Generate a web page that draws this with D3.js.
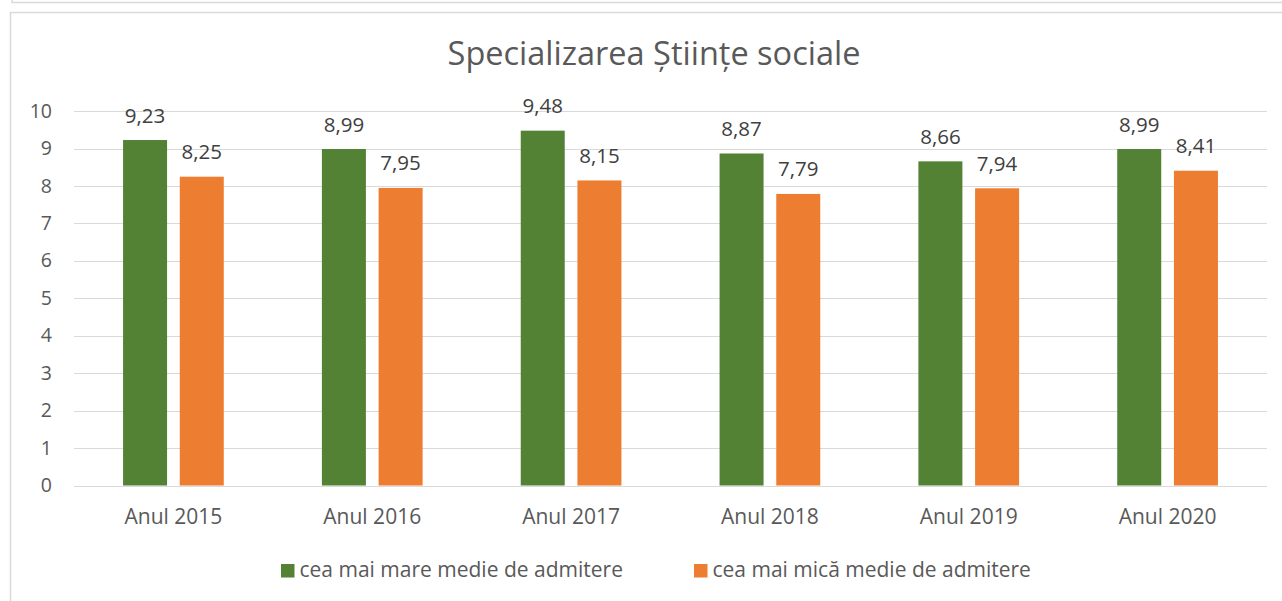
<!DOCTYPE html>
<html><head><meta charset="utf-8">
<script src="https://cdn.jsdelivr.net/npm/d3@7"></script>
<style>body{margin:0;background:#fff;}svg{display:block;font-family:"Open Sans",sans-serif;}</style>
</head><body>
<script>
const categories = ["Anul 2015","Anul 2016","Anul 2017","Anul 2018","Anul 2019","Anul 2020"];
const seriesNames = ["cea mai mare medie de admitere","cea mai mică medie de admitere"];
const maxValues = [9.23, 8.99, 9.48, 8.87, 8.66, 8.99];
const minValues = [8.25, 7.95, 8.15, 7.79, 7.94, 8.41];
const yTicks = [0,1,2,3,4,5,6,7,8,9,10];
const colors = ["#548235", "#ED7D31"];
const title = "Specializarea Științe sociale";

const W = 1282, H = 601;
const svg = d3.select("body").append("svg").attr("width", W).attr("height", H);

// frames
svg.append("path").attr("d", "M12,0 V2.5 H1282").attr("fill","none").attr("stroke","#d9d9d9").attr("stroke-width",1.5);
svg.append("rect").attr("x",10.5).attr("y",12.5).attr("width",1290).attr("height",600)
  .attr("fill","none").attr("stroke","#d9d9d9").attr("stroke-width",1.5);

const pLeft = 74, pRight = 1267, pTop = 111.2, pBottom = 485.5;
const x = d3.scaleBand().domain(categories).range([pLeft, pRight]);
const y = d3.scaleLinear().domain([0,10]).range([pBottom, pTop]);
const barW = 44, gap = 12.7;

svg.append("text").attr("x", 654).attr("y", 65).attr("text-anchor","middle")
  .attr("fill","#595959").style("font-size","32.5px").text(title);

// gridlines
svg.append("g").selectAll("line").data(yTicks).join("line")
  .attr("x1", pLeft).attr("x2", pRight)
  .attr("y1", d => Math.round(y(d))+0.5).attr("y2", d => Math.round(y(d))+0.5)
  .attr("stroke","#d9d9d9").attr("stroke-width",1.2);

// y labels
svg.append("g").selectAll("text").data(yTicks).join("text")
  .attr("x", 52).attr("y", d => y(d)+6.5).attr("text-anchor","end")
  .attr("fill","#595959").style("font-size","19.5px").text(d => d);

// bars
const series = [maxValues, minValues];
series.forEach((vals, si) => {
  const g = svg.append("g");
  const off = si === 0 ? -gap/2 - barW : gap/2;
  g.selectAll("rect").data(vals).join("rect")
    .attr("x", (d,i) => x(categories[i]) + x.bandwidth()/2 + off)
    .attr("y", d => y(d)).attr("width", barW).attr("height", d => y(0) - y(d))
    .attr("fill", colors[si]);
  g.selectAll("text").data(vals).join("text")
    .attr("x", (d,i) => x(categories[i]) + x.bandwidth()/2 + off + barW/2)
    .attr("y", d => y(d) - 17.5).attr("text-anchor","middle")
    .attr("fill","#404040").style("font-size","20.5px")
    .text(d => d.toFixed(2).replace(".", ","));
});

// x labels
svg.append("g").selectAll("text").data(categories).join("text")
  .attr("x", d => x(d) + x.bandwidth()/2).attr("y", 523.5).attr("text-anchor","middle")
  .attr("fill","#595959").style("font-size","21px").text(d => d);

// legend
const legX = [281, 694];
seriesNames.forEach((n, i) => {
  svg.append("rect").attr("x", legX[i]).attr("y", 564).attr("width", 13.5).attr("height", 13.5).attr("fill", colors[i]);
  svg.append("text").attr("x", legX[i] + 18.5).attr("y", 577).attr("fill","#595959")
    .style("font-size","21px").text(n);
});
</script>
</body></html>
